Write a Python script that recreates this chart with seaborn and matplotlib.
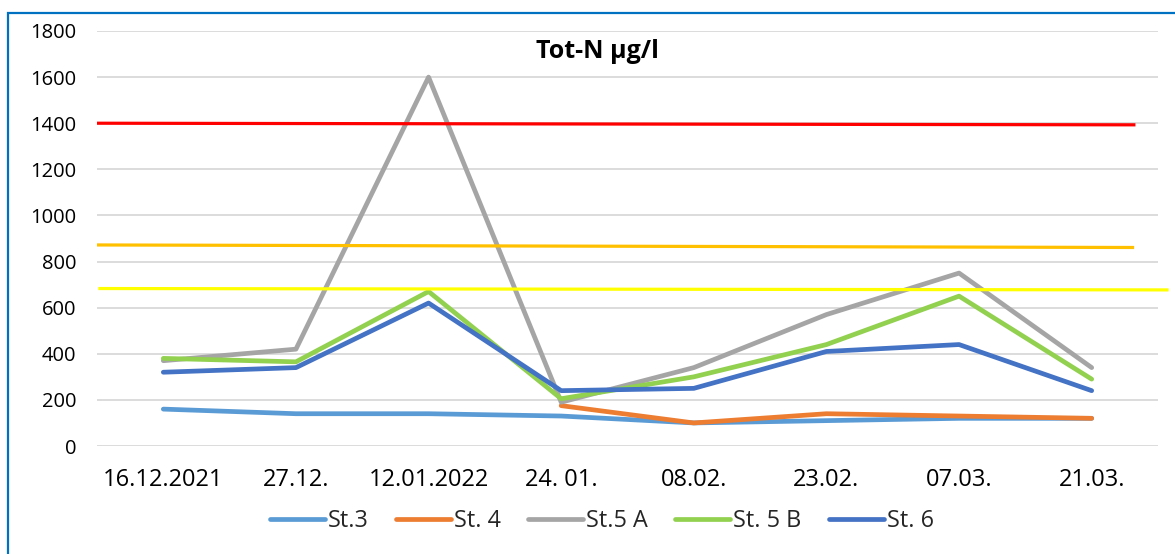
import matplotlib
matplotlib.use("Agg")
import matplotlib.pyplot as plt
from matplotlib.lines import Line2D
from matplotlib.patches import Rectangle
import pandas as pd
import seaborn as sns

# Sampling dates and stations
dates = ["16.12.2021", "27.12.", "12.01.2022", "24. 01.", "08.02.", "23.02.", "07.03.", "21.03."]
stations = ["St.3", "St. 4", "St.5 A", "St. 5 B", "St. 6"]

st3 = [160, 140, 140, 130, 100, 110, 120, 120]
st4 = [None, None, None, 175, 100, 140, 130, 120]
st5a = [370, 420, 1600, 190, 340, 570, 750, 340]
st5b = [380, 365, 670, 205, 300, 440, 650, 290]
st6 = [320, 340, 620, 240, 250, 410, 440, 240]

# Threshold lines (start value, end value)
limit_red = [1400, 1393]
limit_orange = [872, 861]
limit_yellow = [683, 677]

yticks = [0, 200, 400, 600, 800, 1000, 1200, 1400, 1600, 1800]

colors = ["#5B9BD5", "#ED7D31", "#A5A5A5", "#92D050", "#4472C4"]
series = [st3, st4, st5a, st5b, st6]

rows = []
for name, vals in zip(stations, series):
    for i, v in enumerate(vals):
        if v is not None:
            rows.append({"pos": i, "value": v, "station": name})
df = pd.DataFrame(rows)

sns.set_theme(style="white")
plt.rcParams["font.family"] = ["Open Sans", "DejaVu Sans"]

fig = plt.figure(figsize=(11.75, 5.54), dpi=100)
ax = fig.add_axes([97 / 1175, 1 - 446 / 554, (1158 - 97) / 1175, (446 - 31) / 554])

sns.lineplot(data=df, x="pos", y="value", hue="station", hue_order=stations,
             palette=colors, linewidth=3.4, legend=False, ax=ax,
             solid_capstyle="round", zorder=3)

# Threshold lines drawn over the data
ax.plot([-0.5, 7.33], limit_red, color="#FF0000", linewidth=2.3, zorder=5,
        solid_capstyle="butt")
ax.plot([-0.52, 7.32], limit_orange, color="#FFC000", linewidth=2.3, zorder=5,
        solid_capstyle="butt")
ax.plot([-0.49, 7.58], limit_yellow, color="#FFFF00", linewidth=2.3, zorder=5,
        solid_capstyle="butt", clip_on=False)

ax.set_xlim(-0.5, 7.5)
ax.set_ylim(0, 1800)
ax.set_yticks(yticks)
ax.set_yticklabels([str(t) for t in yticks])
ax.set_xticks(range(len(dates)))
ax.set_xticklabels(dates)
ax.set_xlabel("")
ax.set_ylabel("")
ax.grid(axis="y", color="#D9D9D9", linewidth=1.3, zorder=0)
ax.grid(axis="x", visible=False)
for s in ax.spines.values():
    s.set_visible(False)
ax.tick_params(axis="both", length=0, colors="#000000")
ax.tick_params(axis="y", pad=15, labelsize=14.5)
ax.tick_params(axis="x", pad=16, labelsize=17)

fig.text(597 / 1175, 1 - 52 / 554, "Tot-N µg/l", ha="center", va="center",
         fontsize=18, fontweight="bold", color="#000000")

handles = [Line2D([0], [0], color=c, linewidth=3.4, solid_capstyle="round")
           for c in colors]
fig.legend(handles, stations, loc="center", bbox_to_anchor=(602 / 1175, 1 - 521 / 554),
           ncol=5, frameon=False, fontsize=16.8, handlelength=2.36,
           handletextpad=0.13, columnspacing=1.16)

fig.patches.append(Rectangle((8 / 1175, -0.2), 1.2, 1.2 - 13 / 554,
                             transform=fig.transFigure, fill=False,
                             edgecolor="#0070C0", linewidth=1.6))

fig.savefig("out.png", dpi=100)
